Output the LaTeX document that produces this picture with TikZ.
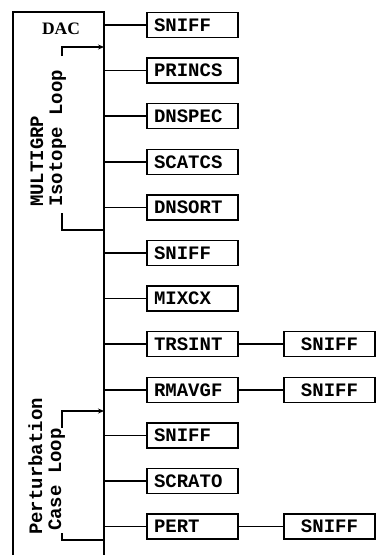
\documentclass[tikz,border=0pt]{standalone}
\usepackage{fontspec}
\setmonofont{Liberation Mono}
\newfontfamily\dacfont{Liberation Serif}
\usetikzlibrary{arrows.meta}
\begin{document}
\begin{tikzpicture}[x=1pt,y=-1pt,
  frame/.style={line width=1.6pt},
  conn/.style={line width=1.6pt},
  brk/.style={line width=1.3pt},
  prog/.style={draw, line width=1.5pt, minimum height=25pt, text width=77pt,
    inner xsep=7pt, inner ysep=0pt, align=left,
    font=\ttfamily\bfseries\fontsize{19}{21}\selectfont},
  progc/.style={prog, align=center},
  lbl/.style={rotate=90, anchor=base west, inner sep=0pt,
    font=\ttfamily\bfseries\fontsize{19}{21}\selectfont}]
\useasboundingbox (0,0) rectangle (378,557);
% frame and trunk
\coordinate (fbl) at (13,555);
\coordinate (ftl) at (13,12);
\coordinate (ftr) at (104,12);
\coordinate (tr) at (104,555);
\draw[frame] (fbl) -- (ftl) -- (ftr) -- (tr);
\node[font=\dacfont\bfseries\fontsize{17.5}{19}\selectfont] (dac) at (61,29) {DAC};
% boxes
\node[prog] (b1) at (192.5,25) {SNIFF};
\node[prog] (b2) at (192.5,70.6) {PRINCS};
\node[prog] (b3) at (192.5,116.2) {DNSPEC};
\node[prog] (b4) at (192.5,161.8) {SCATCS};
\node[prog] (b5) at (192.5,207.4) {DNSORT};
\node[prog] (b6) at (192.5,253) {SNIFF};
\node[prog] (b7) at (192.5,298.6) {MIXCX};
\node[prog] (b8) at (192.5,344.2) {TRSINT};
\node[prog] (b9) at (192.5,389.8) {RMAVGF};
\node[prog] (b10) at (192.5,435.4) {SNIFF};
\node[prog] (b11) at (192.5,481) {SCRATO};
\node[prog] (b12) at (192.5,526.6) {PERT};
\node[progc] (s8) at (329.5,344.2) {SNIFF};
\node[progc] (s9) at (329.5,389.8) {SNIFF};
\node[progc] (s12) at (329.5,526.6) {SNIFF};
\foreach \i in {1,...,12} {\draw[conn] (b\i.west -| tr) -- (b\i.west);}
\draw[conn] (b8) -- (s8);
\draw[conn] (b9) -- (s9);
\draw[conn] (b12) -- (s12);
% loop labels
\node[lbl] (mg) at (43,207) {MULTIGRP};
\node[lbl] (iso) at (62,207) {Isotope Loop};
\node[lbl] (pt) at (42,535) {Perturbation};
\node[lbl] (cl) at (61,531) {Case Loop};
% brackets
\coordinate (ia) at (62,56);
\coordinate (ib) at (62,47);
\coordinate (ic) at (104,47);
\coordinate (id) at (62,213);
\coordinate (ie) at (62,230);
\coordinate (if) at (104,230);
\draw[brk,-{Stealth[length=6pt,width=5pt]}] (ia) -- (ib) -- (ic);
\draw[brk] (id) -- (ie) -- (if);
\coordinate (pa) at (62,428);
\coordinate (pb) at (62,411);
\coordinate (pc) at (104,411);
\coordinate (pd) at (62,533);
\coordinate (pe) at (62,540);
\coordinate (pf) at (104,540);
\draw[brk,-{Stealth[length=6pt,width=5pt]}] (pa) -- (pb) -- (pc);
\draw[brk] (pd) -- (pe) -- (pf);
\end{tikzpicture}
\end{document}
